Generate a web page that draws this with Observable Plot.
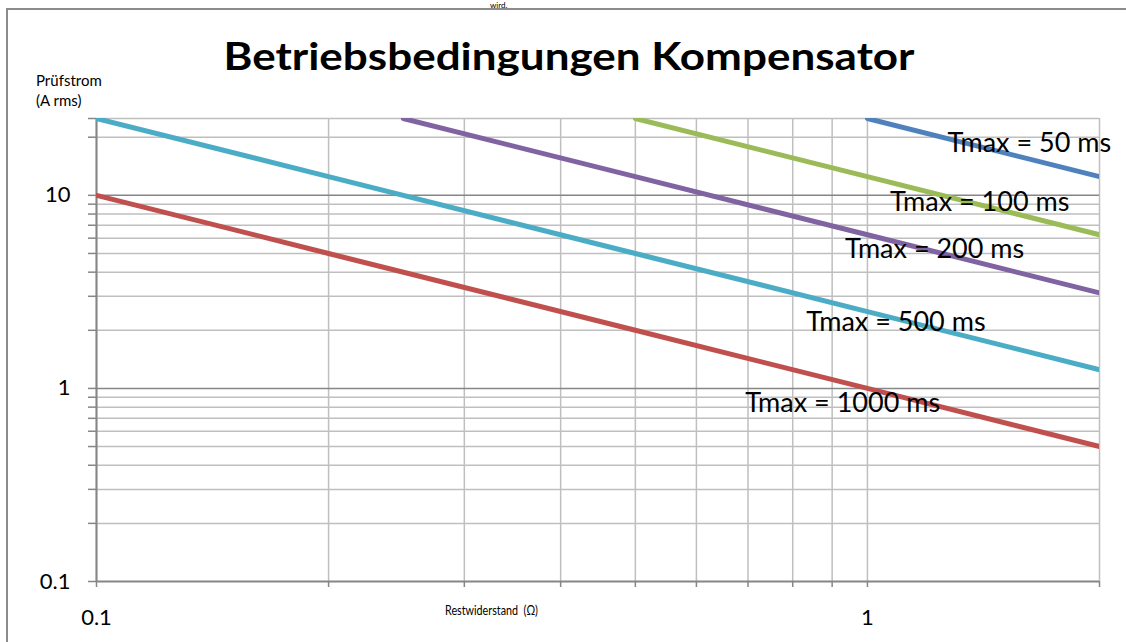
<!DOCTYPE html>
<html>
<head>
<meta charset="utf-8">
<script src="https://cdn.jsdelivr.net/npm/d3@7"></script>
<script src="https://cdn.jsdelivr.net/npm/@observablehq/plot@0.6"></script>
<style>
  html, body { margin: 0; padding: 0; background: #fff; }
  #wrap { position: relative; width: 1126px; height: 642px; overflow: hidden; font-family: Lato, "Open Sans", sans-serif; }
  #frame { position: absolute; left: 6px; top: 8px; width: 1130px; height: 700px; border-left: 2px solid #8c8c8c; border-top: 2px solid #8c8c8c; }
  #chart { position: absolute; left: 0; top: 0; }
  .t { position: absolute; white-space: nowrap; color: #000; }
</style>
</head>
<body>
<div id="wrap">
  <div id="frame"></div>
  <div id="chart"></div>
  <div class="t" style="left:490px; top:1px; font-size:8px; line-height:8px;">wird.</div>
  <div class="t" id="title" style="left:0; width:1138px; text-align:center; top:27px; font-size:44px; line-height:1.2; font-weight:bold; transform:scaleY(0.86); transform-origin:50% 43px;">Betriebsbedingungen Kompensator</div>
  <div class="t" style="left:36px; top:70px; font-size:15px; line-height:20px;">Prüfstrom<br>(A rms)</div>
  <div class="t" style="left:445px; top:603px; font-size:12.5px; transform:scaleX(0.86); transform-origin:0 50%;">Restwiderstand&nbsp; (Ω)</div>
</div>
<script>
// Series (Restwiderstand in Ω, Prüfstrom in A rms)
const seriesNames = ["Tmax = 50 ms", "Tmax = 100 ms", "Tmax = 200 ms", "Tmax = 500 ms", "Tmax = 1000 ms"];
const seriesColors = ["#4f81bd", "#9bbb59", "#8064a2", "#4bacc6", "#c0504d"];
const x50 = [1, 2];
const y50 = [25, 12.5];
const x100 = [0.5, 1, 2];
const y100 = [25, 12.5, 6.25];
const x200 = [0.25, 0.5, 1, 2];
const y200 = [25, 12.5, 6.25, 3.125];
const x500 = [0.1, 0.2, 0.5, 1, 2];
const y500 = [25, 12.5, 5, 2.5, 1.25];
const x1000 = [0.1, 0.2, 0.5, 1, 2];
const y1000 = [10, 5, 2, 1, 0.5];

// Label anchor positions (data coordinates)
const labelX = [1.27, 1.07, 0.935, 0.833, 0.694];
const labelY = [18.5, 9.25, 5.27, 2.2, 0.836];

// Grid / ticks
const xGrid = [0.1, 0.2, 0.3, 0.4, 0.5, 0.6, 0.7, 0.8, 0.9, 1, 2];
const xLabels = [0.1, 1];
const yGridMinor = [0.2, 0.3, 0.4, 0.5, 0.6, 0.7, 0.8, 0.9, 2, 3, 4, 5, 6, 7, 8, 9, 20, 25];
const yGridMajor = [1, 10];
const yLabels = [0.1, 1, 10];
const yTicks = [0.1, 0.2, 0.3, 0.4, 0.5, 0.6, 0.7, 0.8, 0.9, 1, 2, 3, 4, 5, 6, 7, 8, 9, 10, 20, 25];

const xs = [x50, x100, x200, x500, x1000];
const ys = [y50, y100, y200, y500, y1000];
const rows = [];
seriesNames.forEach((s, i) => xs[i].forEach((x, j) => rows.push({series: s, x, y: ys[i][j]})));
const labels = seriesNames.map((s, i) => ({text: s, x: labelX[i], y: labelY[i]}));

const norm = d => +d.toPrecision(6);

const chart = Plot.plot({
  width: 1126,
  height: 642,
  marginLeft: 96,
  marginRight: 27,
  marginTop: 118,
  marginBottom: 61,
  style: {fontFamily: "Lato, 'Open Sans', sans-serif", background: "transparent", overflow: "visible"},
  x: {type: "log", domain: [0.1, 2]},
  y: {type: "log", domain: [0.1, 25]},
  color: {domain: seriesNames, range: seriesColors},
  marks: [
    Plot.ruleX(xGrid, {stroke: "#bfbfbf", strokeWidth: 1.5}),
    Plot.ruleY(yGridMinor, {stroke: "#bfbfbf", strokeWidth: 1.5}),
    Plot.ruleY(yGridMajor, {stroke: "#868686", strokeWidth: 1.5}),
    Plot.ruleX([0.1], {stroke: "#868686", strokeWidth: 2}),
    Plot.ruleY([0.1], {stroke: "#868686", strokeWidth: 2}),
    Plot.axisX({ticks: xGrid, tickFormat: d => xLabels.includes(norm(d)) ? String(norm(d)) : "", tickSize: 6, tickPadding: 22, fontSize: 22, stroke: "#868686", strokeWidth: 1.5, fill: "black", label: null}),
    Plot.axisY({ticks: yTicks, tickFormat: d => yLabels.includes(norm(d)) ? String(norm(d)) : "", tickSize: 8, tickPadding: 18, fontSize: 22, stroke: "#868686", strokeWidth: 1.5, fill: "black", label: null}),
    Plot.line(rows, {x: "x", y: "y", z: "series", stroke: "series", strokeWidth: 5, clip: true}),
    Plot.text(labels, {x: "x", y: "y", text: "text", textAnchor: "start", fontSize: 27, fill: "black"})
  ]
});
document.getElementById("chart").appendChild(chart);
</script>
</body>
</html>
